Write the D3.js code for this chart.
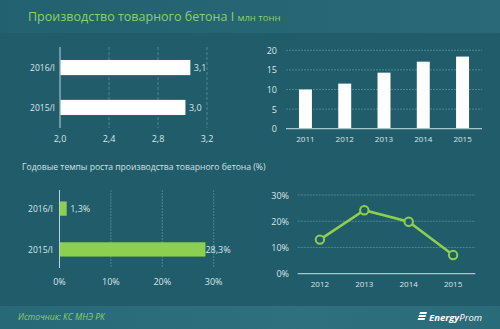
<!DOCTYPE html>
<html><head><meta charset="utf-8">
<script src="https://cdn.jsdelivr.net/npm/d3@7"></script>
<style>body{margin:0;background:#205c69;}svg{display:block;font-family:"Open Sans",sans-serif;}</style>
</head><body>
<script>
const title = "Производство товарного бетона I ";
const titleUnit = "млн тонн";
const subtitle = "Годовые темпы роста производства товарного бетона (%)";
const source = "Источник: КС МНЭ РК";

const q1Cats = ["2016/I", "2015/I"];
const q1Values = [3.06, 3.02];
const q1Labels = ["3,1", "3,0"];
const q1Ticks = [2.0, 2.4, 2.8, 3.2];

const years = ["2011", "2012", "2013", "2014", "2015"];
const yearValues = [10.0, 11.5, 14.3, 17.1, 18.4];
const yearTicks = [0, 5, 10, 15, 20];

const growthCats = ["2016/I", "2015/I"];
const growthValues = [1.3, 28.3];
const growthLabels = ["1,3%", "28,3%"];
const growthTicks = [0, 10, 20, 30];

const lineYears = ["2012", "2013", "2014", "2015"];
const lineValues = [13.0, 24.2, 19.8, 7.1];
const lineTicks = [0, 10, 20, 30];

const W = 500, H = 329;
const svg = d3.select("body").append("svg").attr("width", W).attr("height", H);
const defs = svg.append("defs");
const g1 = defs.append("linearGradient").attr("id","hdr").attr("x1",0).attr("x2",1);
g1.append("stop").attr("offset","0").attr("stop-color","#226270");
g1.append("stop").attr("offset","1").attr("stop-color","#2a6a78");
const g2 = defs.append("linearGradient").attr("id","ftr").attr("x1",0).attr("x2",1);
g2.append("stop").attr("offset","0").attr("stop-color","#276976");
g2.append("stop").attr("offset","0.6").attr("stop-color","#2e707e");
g2.append("stop").attr("offset","1").attr("stop-color","#2a6b79");

svg.append("rect").attr("width",W).attr("height",H).attr("fill","#205c69");
svg.append("rect").attr("width",W).attr("height",33).attr("fill","url(#hdr)");
svg.append("rect").attr("y",306).attr("width",W).attr("height",23).attr("fill","url(#ftr)");

const tt = svg.append("text").attr("x",28).attr("y",21).attr("fill","#8ccf6e").attr("font-size",12.5);
tt.append("tspan").text(title);
tt.append("tspan").attr("font-size",9.5).text(titleUnit);

const txtCol = "#d9e6ea";
const gridCol = "#4b8796";

// ---- Top-left horizontal bars
{
  const x = d3.scaleLinear().domain([2.0, 3.2]).range([60, 207]);
  const y = d3.scaleBand().domain(q1Cats).range([48, 127]).paddingInner(0.62).paddingOuter(0.3);
  const g = svg.append("g");
  g.selectAll("line.gr").data(q1Ticks.slice(1)).enter().append("line")
    .attr("x1",d=>x(d)).attr("x2",d=>x(d)).attr("y1",47).attr("y2",128)
    .attr("stroke",gridCol).attr("stroke-width",1).attr("stroke-dasharray","3,2");
  g.append("line").attr("x1",x(2)).attr("x2",x(2)).attr("y1",47).attr("y2",128).attr("stroke","#b9d3da").attr("stroke-width",1);
  g.selectAll("rect").data(q1Values).enter().append("rect")
    .attr("x",x(2)+0.5).attr("y",(d,i)=>y(q1Cats[i])).attr("width",d=>x(d)-x(2)).attr("height",y.bandwidth()).attr("fill","#ffffff");
  g.selectAll("text.v").data(q1Values).enter().append("text")
    .attr("x",d=>x(d)+4).attr("y",(d,i)=>y(q1Cats[i])+y.bandwidth()/2+3.5)
    .attr("fill",txtCol).attr("font-size",9).text((d,i)=>q1Labels[i]);
  g.selectAll("text.c").data(q1Cats).enter().append("text")
    .attr("x",55).attr("y",d=>y(d)+y.bandwidth()/2+3.5).attr("text-anchor","end")
    .attr("fill",txtCol).attr("font-size",8.5).text(d=>d);
  g.selectAll("text.t").data(q1Ticks).enter().append("text")
    .attr("x",d=>x(d)).attr("y",142).attr("text-anchor","middle")
    .attr("fill",txtCol).attr("font-size",9).text(d=>d.toFixed(1).replace(".",","));
}

// ---- Top-right vertical bars
{
  const x = d3.scaleBand().domain(years).range([286, 482]).paddingInner(0.67).paddingOuter(0.33);
  const y = d3.scaleLinear().domain([0, 20]).range([128.7, 50.3]);
  const g = svg.append("g");
  g.selectAll("line.gr").data(yearTicks.slice(1)).enter().append("line")
    .attr("x1",286).attr("x2",482).attr("y1",d=>y(d)).attr("y2",d=>y(d))
    .attr("stroke",gridCol).attr("stroke-width",1).attr("stroke-dasharray","2,1");
  g.selectAll("rect").data(yearValues).enter().append("rect")
    .attr("x",(d,i)=>x(years[i])).attr("y",d=>y(d)).attr("width",x.bandwidth()).attr("height",d=>y(0)-y(d)).attr("fill","#ffffff");
  g.append("line").attr("x1",286).attr("x2",482).attr("y1",y(0)).attr("y2",y(0)).attr("stroke","#a9c7cf").attr("stroke-width",1.2);
  g.selectAll("text.t").data(yearTicks).enter().append("text")
    .attr("x",277).attr("y",d=>y(d)+3.5).attr("text-anchor","end")
    .attr("fill",txtCol).attr("font-size",9).text(d=>d);
  g.selectAll("text.c").data(years).enter().append("text")
    .attr("x",d=>x(d)+x.bandwidth()/2).attr("y",142).attr("text-anchor","middle")
    .attr("fill",txtCol).attr("font-size",8).text(d=>d);
}

// subtitle
svg.append("text").attr("x",22).attr("y",170).attr("fill","#d3e0e4").attr("font-size",8.6).text(subtitle);

// ---- Bottom-left growth bars
{
  const x = d3.scaleLinear().domain([0, 30]).range([59.5, 213.7]);
  const y = d3.scaleBand().domain(growthCats).range([190, 268]).paddingInner(0.65).paddingOuter(0.28);
  const g = svg.append("g");
  g.selectAll("line.gr").data(growthTicks.slice(1)).enter().append("line")
    .attr("x1",d=>x(d)).attr("x2",d=>x(d)).attr("y1",190).attr("y2",268)
    .attr("stroke",gridCol).attr("stroke-width",1).attr("stroke-dasharray","2,1");
  g.append("line").attr("x1",x(0)).attr("x2",x(0)).attr("y1",190).attr("y2",268).attr("stroke","#b9d3da").attr("stroke-width",1);
  g.selectAll("rect").data(growthValues).enter().append("rect")
    .attr("x",x(0)+0.5).attr("y",(d,i)=>y(growthCats[i])).attr("width",d=>x(d)-x(0)).attr("height",y.bandwidth()).attr("fill","#8dd04f");
  g.selectAll("text.v").data(growthValues).enter().append("text")
    .attr("x",(d,i)=>x(d)+(i===0?4:0.5)).attr("y",(d,i)=>y(growthCats[i])+y.bandwidth()/2+3.5)
    .attr("fill",txtCol).attr("font-size",9).text((d,i)=>growthLabels[i]);
  g.selectAll("text.c").data(growthCats).enter().append("text")
    .attr("x",53).attr("y",d=>y(d)+y.bandwidth()/2+3.5).attr("text-anchor","end")
    .attr("fill",txtCol).attr("font-size",8.5).text(d=>d);
  g.selectAll("text.t").data(growthTicks).enter().append("text")
    .attr("x",d=>x(d)).attr("y",285).attr("text-anchor","middle")
    .attr("fill",txtCol).attr("font-size",9).text(d=>d+"%");
}

// ---- Bottom-right line
{
  const x = d3.scalePoint().domain(lineYears).range([297.7, 475.3]).padding(0.5);
  const y = d3.scaleLinear().domain([0, 30]).range([273.7, 195]);
  const g = svg.append("g");
  g.selectAll("line.gr").data(lineTicks.slice(1)).enter().append("line")
    .attr("x1",297.7).attr("x2",475.3).attr("y1",d=>y(d)).attr("y2",d=>y(d))
    .attr("stroke",gridCol).attr("stroke-width",1).attr("stroke-dasharray","2,1");
  g.append("line").attr("x1",297.7).attr("x2",475.3).attr("y1",y(0)).attr("y2",y(0)).attr("stroke","#a9c7cf").attr("stroke-width",1.2);
  const line = d3.line().x((d,i)=>x(lineYears[i])).y(d=>y(d));
  g.append("path").datum(lineValues).attr("d",line).attr("fill","none").attr("stroke","#8dd04f").attr("stroke-width",2.5);
  g.selectAll("circle").data(lineValues).enter().append("circle")
    .attr("cx",(d,i)=>x(lineYears[i])).attr("cy",d=>y(d)).attr("r",4.2)
    .attr("fill","#205c69").attr("stroke","#8dd04f").attr("stroke-width",2);
  g.selectAll("text.t").data(lineTicks).enter().append("text")
    .attr("x",289).attr("y",d=>y(d)+3.5).attr("text-anchor","end")
    .attr("fill",txtCol).attr("font-size",9).text(d=>d+"%");
  g.selectAll("text.c").data(lineYears).enter().append("text")
    .attr("x",d=>x(d)).attr("y",287).attr("text-anchor","middle")
    .attr("fill",txtCol).attr("font-size",8).text(d=>d);
}

// footer
svg.append("text").attr("x",18).attr("y",320).attr("fill","#8ccf6e").attr("font-size",8.5).attr("font-style","italic").text(source);
{
  const lg = svg.append("g").attr("transform","translate(418,312)");
  [0,3,6].forEach((dy,i)=>{
    lg.append("path").attr("d",`M${2-dy*0.3},${dy} h7 l-0.6,2 h-7 z`).attr("fill","#ffffff");
  });
  lg.append("text").attr("x",11).attr("y",8.5).attr("fill","#ffffff").attr("font-size",9.5).attr("font-style","italic")
    .html('<tspan font-weight="bold">Energy</tspan><tspan>Prom</tspan>');
}
</script>
</body></html>
